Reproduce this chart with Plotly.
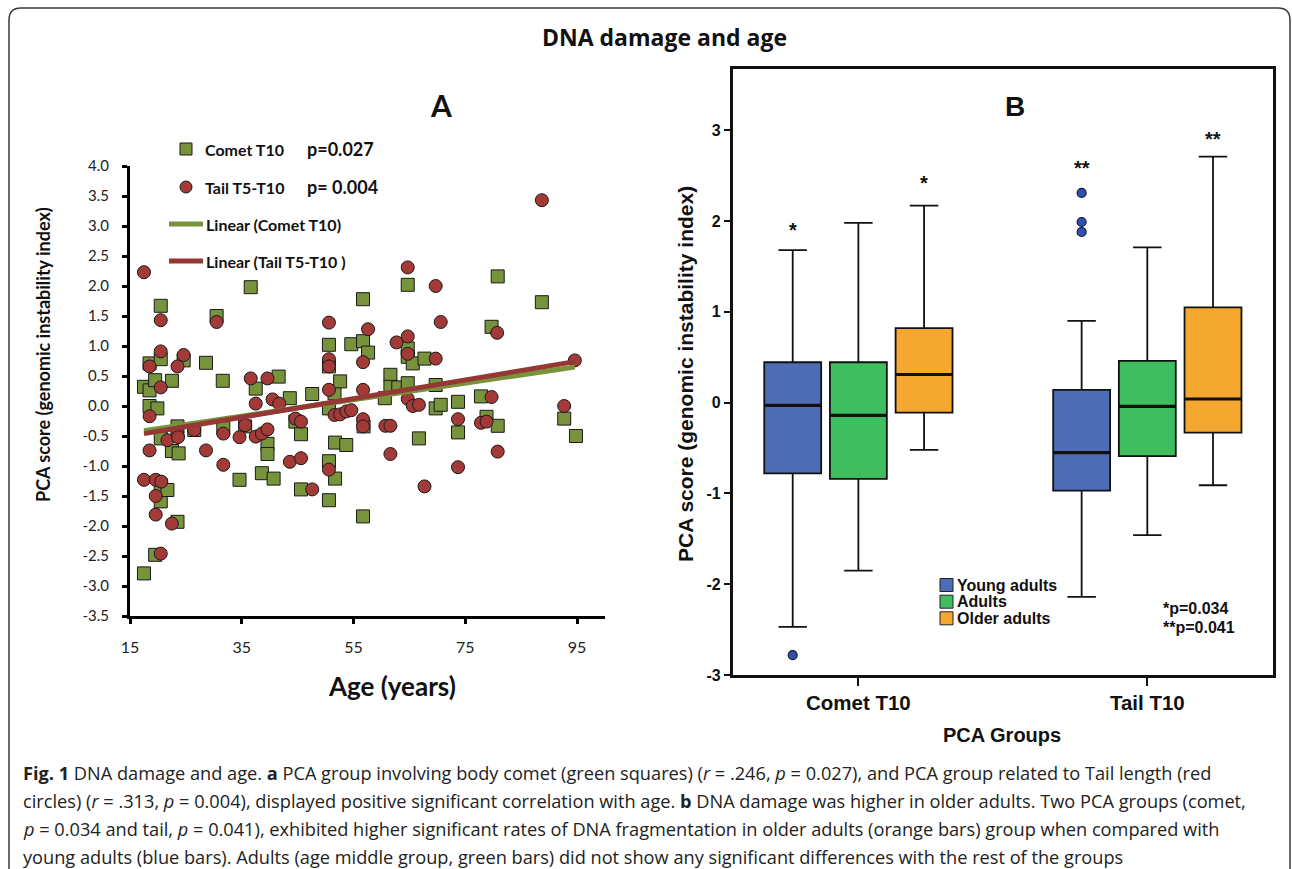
import plotly.graph_objects as go

W, H = 1292, 869

# ---------------- Panel A data (age vs PCA score) ----------------
comet_age = [17.5, 17.5, 18.5, 18.5, 18.5, 19.5, 19.9, 19.5, 20.5, 20.5, 20.5, 20.5, 20.5, 21.7,
             22.5, 22.5, 23.5, 23.7, 23.5, 24.6, 26.5, 28.6, 30.5, 31.6, 31.7, 34.6, 35.6, 36.6,
             37.5, 38.6, 39.6, 39.6, 40.7, 41.6, 43.6, 44.6, 45.6, 45.6, 47.6, 50.6, 50.6, 50.6,
             50.6, 50.6, 51.6, 51.7, 51.7, 52.6, 53.7, 54.6, 56.7, 56.7, 56.8, 56.7, 57.6, 60.6,
             61.6, 61.6, 63.0, 64.7, 64.7, 64.7, 64.7, 65.6, 66.7, 67.7, 69.7, 69.7, 70.6, 73.7,
             73.7, 77.8, 78.8, 79.7, 80.8, 80.8, 88.7, 92.7, 94.8]
comet_pca = [0.32, -2.79, 0.71, 0.26, 0.0, 0.43, -0.04, -2.48, 1.67, 0.78, -0.54, -1.32, -1.59, -1.40,
             0.42, -0.75, -0.34, -0.79, -1.93, 0.76, -0.40, 0.72, 1.50, 0.42, -0.37, -1.23, -0.34, 1.98,
             0.29, -1.12, -0.63, -0.80, -1.21, 0.49, 0.13, -0.26, -0.47, -1.39, 0.20, 1.02, 0.66, -0.04,
             -0.92, -1.57, 0.21, -0.61, -1.21, 0.41, -0.65, 1.03, 1.78, 1.08, -0.34, -1.84, 0.89, 0.13,
             0.52, 0.32, 0.31, 2.02, 0.96, 0.82, 0.38, 0.71, -0.54, 0.79, 0.35, -0.04, 0.02, 0.07,
             -0.44, 0.16, -0.18, 1.32, 2.16, -0.33, 1.73, -0.21, -0.50]

tail_age = [17.5, 17.5, 18.5, 18.5, 18.5, 19.6, 19.6, 19.6, 20.5, 20.5, 20.5, 20.6, 20.5, 21.7,
            22.5, 23.5, 23.5, 23.6, 24.6, 26.5, 28.6, 30.5, 31.7, 31.7, 34.6, 35.6, 36.6, 37.5,
            37.5, 38.6, 39.6, 39.6, 40.5, 41.7, 43.6, 44.6, 45.6, 45.6, 47.6, 50.6, 50.6, 50.6,
            50.6, 50.6, 51.6, 52.6, 53.7, 54.6, 56.7, 56.7, 56.7, 56.7, 57.6, 60.7, 61.6, 61.6,
            62.7, 64.7, 64.7, 64.7, 64.7, 65.6, 66.7, 67.7, 69.7, 69.7, 70.6, 73.7, 73.7, 77.8,
            78.8, 79.7, 80.7, 80.8, 88.7, 92.7, 94.6]
tail_pca = [2.23, -1.23, 0.66, -0.17, -0.74, -1.23, -1.50, -1.81, 1.43, 0.91, 0.31, -1.26, -2.46, -0.57,
            -1.96, 0.66, -0.46, -0.52, 0.85, -0.40, -0.74, 1.40, -0.46, -0.98, -0.52, -0.32, 0.46, 0.04,
            -0.51, -0.46, 0.46, -0.39, 0.11, 0.04, -0.93, -0.21, -0.26, -0.87, -1.39, 1.39, 0.78, 0.66,
            0.27, -1.06, -0.15, -0.14, -0.09, -0.07, 0.73, 0.27, -0.22, -0.34, 1.28, -0.33, -0.33, -0.80,
            1.06, 2.31, 1.16, 0.87, 0.12, 0.0, 0.02, -1.34, 2.00, 0.79, 1.40, -0.22, -1.02, -0.28,
            -0.26, 0.15, 1.22, -0.76, 3.43, 0.0, 0.76]

trend_age = [17.5, 94.6]
comet_trend = [-0.41, 0.65]
tail_trend = [-0.46, 0.74]

age_ticks = [15, 35, 55, 75, 95]
pca_ticks_a = [-3.5, -3.0, -2.5, -2.0, -1.5, -1.0, -0.5, 0.0, 0.5, 1.0, 1.5, 2.0, 2.5, 3.0, 3.5, 4.0]

# ---------------- Panel B data (box plots) ----------------
pca_groups = ["Comet T10", "Tail T10"]
age_groups = ["Young adults", "Adults", "Older adults"]
q1 = {"Young adults": [-0.78, -0.97], "Adults": [-0.84, -0.59], "Older adults": [-0.11, -0.33]}
median = {"Young adults": [-0.03, -0.55], "Adults": [-0.14, -0.04], "Older adults": [0.31, 0.04]}
q3 = {"Young adults": [0.445, 0.14], "Adults": [0.445, 0.46], "Older adults": [0.82, 1.05]}
lowerfence = {"Young adults": [-2.47, -2.14], "Adults": [-1.85, -1.46], "Older adults": [-0.52, -0.91]}
upperfence = {"Young adults": [1.68, 0.90], "Adults": [1.98, 1.71], "Older adults": [2.17, 2.71]}
outliers_young = {"Comet T10": [-2.78], "Tail T10": [2.31, 1.99, 1.88]}
stars = [("Comet T10", "Young adults", "*", 1.80), ("Comet T10", "Older adults", "*", 2.32),
         ("Tail T10", "Young adults", "**", 2.49), ("Tail T10", "Older adults", "**", 2.81)]
box_yticks = [-3, -2, -1, 0, 1, 2, 3]

# ---------------- styling ----------------
GREEN_A = "#77933C"
RED_A = "#A33A37"
BOX_COLORS = {"Young adults": "#4F6CB6", "Adults": "#3EBE5F", "Older adults": "#F5A82F"}
GROUP_OFFSET = {"Young adults": -0.2273, "Adults": 0.0, "Older adults": 0.2273}
BOX_W = 0.197


def px(x):
    return x / W


def py(y):
    return 1 - y / H


def hyphen(v, fmt):
    return (fmt % v).replace("\u2212", "-")


fig = go.Figure()

# Panel A scatter
fig.add_trace(go.Scatter(x=comet_age, y=comet_pca, mode="markers", xaxis="x", yaxis="y",
                         marker=dict(symbol="square", size=13, color=GREEN_A,
                                     line=dict(color="#1a1a1a", width=1)),
                         showlegend=False, hoverinfo="skip"))
fig.add_trace(go.Scatter(x=tail_age, y=tail_pca, mode="markers", xaxis="x", yaxis="y",
                         marker=dict(symbol="circle", size=13, color=RED_A,
                                     line=dict(color="#1a1a1a", width=1)),
                         showlegend=False, hoverinfo="skip"))
fig.add_trace(go.Scatter(x=trend_age, y=comet_trend, mode="lines", xaxis="x", yaxis="y",
                         line=dict(color=GREEN_A, width=5), showlegend=False))
fig.add_trace(go.Scatter(x=trend_age, y=tail_trend, mode="lines", xaxis="x", yaxis="y",
                         line=dict(color="#953735", width=5), showlegend=False))

# Panel B boxes
cat_index = {c: i for i, c in enumerate(pca_groups)}
for g in age_groups:
    xs = [cat_index[c] + GROUP_OFFSET[g] for c in pca_groups]
    fig.add_trace(go.Box(x=xs, q1=q1[g], median=median[g], q3=q3[g],
                         lowerfence=lowerfence[g], upperfence=upperfence[g],
                         xaxis="x2", yaxis="y2", width=BOX_W, whiskerwidth=0.5,
                         fillcolor=BOX_COLORS[g], line=dict(color="#111111", width=1.8),
                         boxpoints=False, showlegend=False, hoverinfo="skip"))
    mx, my = [], []
    for c, m in zip(pca_groups, median[g]):
        x0 = cat_index[c] + GROUP_OFFSET[g]
        mx += [x0 - BOX_W / 2, x0 + BOX_W / 2, None]
        my += [m, m, None]
    fig.add_trace(go.Scatter(x=mx, y=my, mode="lines", xaxis="x2", yaxis="y2",
                             line=dict(color="#111111", width=3.2), showlegend=False, hoverinfo="skip"))

ox, oy = [], []
for c, vals in outliers_young.items():
    for v in vals:
        ox.append(cat_index[c] + GROUP_OFFSET["Young adults"])
        oy.append(v)
fig.add_trace(go.Scatter(x=ox, y=oy, mode="markers", xaxis="x2", yaxis="y2",
                         marker=dict(size=9, color="#3050AE", line=dict(color="#1a1a3a", width=1.2)),
                         showlegend=False, hoverinfo="skip"))

annotations = []
for c, g, s, v in stars:
    annotations.append(dict(x=cat_index[c] + GROUP_OFFSET[g], y=v, xref="x2", yref="y2",
                            text=s, showarrow=False, yanchor="bottom", yshift=-4,
                            font=dict(family="Liberation Sans", size=20, color="#111", weight="bold")))

shapes = []

# Outer rounded frame
r = 12
L, R, T, B = 9, 1290, 8, 905
path = (f"M {px(L)} {py(T + r)} Q {px(L)} {py(T)} {px(L + r)} {py(T)} "
        f"L {px(R - r)} {py(T)} Q {px(R)} {py(T)} {px(R)} {py(T + r)} "
        f"L {px(R)} {py(B)} L {px(L)} {py(B)} Z")
shapes.append(dict(type="path", xref="paper", yref="paper", path=path,
                   line=dict(color="#3a3a3a", width=1.5), fillcolor="rgba(0,0,0,0)", layer="below"))

# Panel A legend symbols
shapes.append(dict(type="rect", xref="paper", yref="paper", x0=px(180), x1=px(192), y0=py(155), y1=py(143),
                   fillcolor=GREEN_A, line=dict(color="#1a1a1a", width=1)))
shapes.append(dict(type="circle", xref="paper", yref="paper", x0=px(180), x1=px(192), y0=py(193), y1=py(181),
                   fillcolor=RED_A, line=dict(color="#1a1a1a", width=1)))
shapes.append(dict(type="line", xref="paper", yref="paper", x0=px(169), x1=px(203), y0=py(224), y1=py(224),
                   line=dict(color=GREEN_A, width=5)))
shapes.append(dict(type="line", xref="paper", yref="paper", x0=px(169), x1=px(203), y0=py(261), y1=py(261),
                   line=dict(color="#953735", width=5)))

FA = "Lato"
FB = "Liberation Sans"


def txt(x, y, text, size, family=FA, bold=True, xanchor="left", angle=0, color="#111"):
    annotations.append(dict(x=px(x), y=py(y), xref="paper", yref="paper", text=text, showarrow=False,
                            xanchor=xanchor, yanchor="middle", textangle=angle, borderpad=0,
                            font=dict(family=family, size=size, color=color,
                                      weight="bold" if bold else "normal")))


txt(204, 149, "Comet T10", 16)
txt(306, 149, "p=0.027", 18)
txt(204, 187, "Tail T5-T10", 16)
txt(306, 187, "p= 0.004", 18)
txt(205, 224, "Linear (Comet T10)", 16)
txt(205, 261, "Linear (Tail T5-T10 )", 16)

txt(441, 105, "A", 30, xanchor="center")
txt(392, 686, "Age (years)", 26, xanchor="center")
txt(43, 355, "PCA score (genomic instability index)", 18, xanchor="center", angle=-90)

# Panel B texts
txt(1015, 107, "B", 28, family=FB, xanchor="center")
txt(685, 374, "PCA score (genomic instability index)", 21, family=FB, xanchor="center", angle=-90)
txt(1002, 735, "PCA Groups", 20, family=FB, xanchor="center")
leg_rows = [585, 601.7, 618.3]
for g, yy in zip(age_groups, leg_rows):
    shapes.append(dict(type="rect", xref="paper", yref="paper", x0=px(940), x1=px(953),
                       y0=py(yy + 6.5), y1=py(yy - 6.5), fillcolor=BOX_COLORS[g],
                       line=dict(color="#222", width=1)))
    txt(956, yy, g, 16, family=FB)
txt(1162, 608, "*p=0.034", 16, family=FB)
txt(1162, 627, "**p=0.041", 16, family=FB)

# Title
txt(664, 37, "DNA damage and age", 23, family="Open Sans", xanchor="center")

# Caption
FC = "Open Sans"
cap_lines = [
    "<b>Fig. 1</b> DNA damage and age. <b>a</b> PCA group involving body comet (green squares) (<i>r</i> = .246, <i>p</i> = 0.027), and PCA group related to Tail length (red",
    "circles) (<i>r</i> = .313, <i>p</i> = 0.004), displayed positive significant correlation with age. <b>b</b> DNA damage was higher in older adults. Two PCA groups (comet,",
    "<i>p</i> = 0.034 and tail, <i>p</i> = 0.041), exhibited higher significant rates of DNA fragmentation in older adults (orange bars) group when compared with",
    "young adults (blue bars). Adults (age middle group, green bars) did not show any significant differences with the rest of the groups",
]
for i, line in enumerate(cap_lines):
    txt(22, 773 + 28 * i, line, 18.2, family=FC, bold=False, color="#222")

fig.update_layout(
    template="none",
    width=W, height=H, margin=dict(l=0, r=0, t=0, b=0, pad=0, autoexpand=False),
    paper_bgcolor="white", plot_bgcolor="white", showlegend=False, boxmode="overlay",
    xaxis=dict(domain=[px(130), px(605)], range=[15, 100], tickvals=age_ticks,
               ticktext=[str(a) for a in age_ticks], automargin=False,
               showline=True, linecolor="black", linewidth=3, ticks="outside", ticklen=5, tickwidth=3,
               tickcolor="black", showgrid=False, zeroline=False, ticklabelstandoff=10,
               tickfont=dict(family=FA, size=16, color="#222")),
    yaxis=dict(domain=[py(616), py(166)], range=[-3.5, 4.0], tickvals=pca_ticks_a,
               ticktext=[hyphen(v, "%.1f") for v in pca_ticks_a], automargin=False,
               showline=True, linecolor="black", linewidth=3, ticks="outside", ticklen=5, tickwidth=3,
               tickcolor="black", showgrid=False, zeroline=False, anchor="x", ticklabelstandoff=10,
               tickfont=dict(family=FA, size=15, color="#222")),
    xaxis2=dict(domain=[px(732.7), px(1273)], range=[-0.435, 1.435], tickvals=[0, 1], ticktext=pca_groups,
                automargin=False,
                showline=True, mirror=True, linecolor="#111", linewidth=2.5, ticks="outside", ticklen=8,
                tickwidth=2, tickcolor="#111", showgrid=False, zeroline=False, anchor="y2",
                tickfont=dict(family=FB, size=20.5, color="#111", weight="bold")),
    yaxis2=dict(domain=[py(675), py(69.3)], range=[-3, 3.672], tickvals=box_yticks,
                ticktext=[hyphen(v, "%d") for v in box_yticks], automargin=False,
                showline=True, mirror=True, linecolor="#111", linewidth=2.5, ticks="outside", ticklen=6,
                tickwidth=2, tickcolor="#111", showgrid=False, zeroline=False, anchor="x2",
                tickfont=dict(family=FB, size=16, color="#111", weight="bold")),
    shapes=shapes, annotations=annotations,
)

fig.write_html("out.html", post_script="document.body.style.margin='0';document.body.style.overflow='hidden';")
